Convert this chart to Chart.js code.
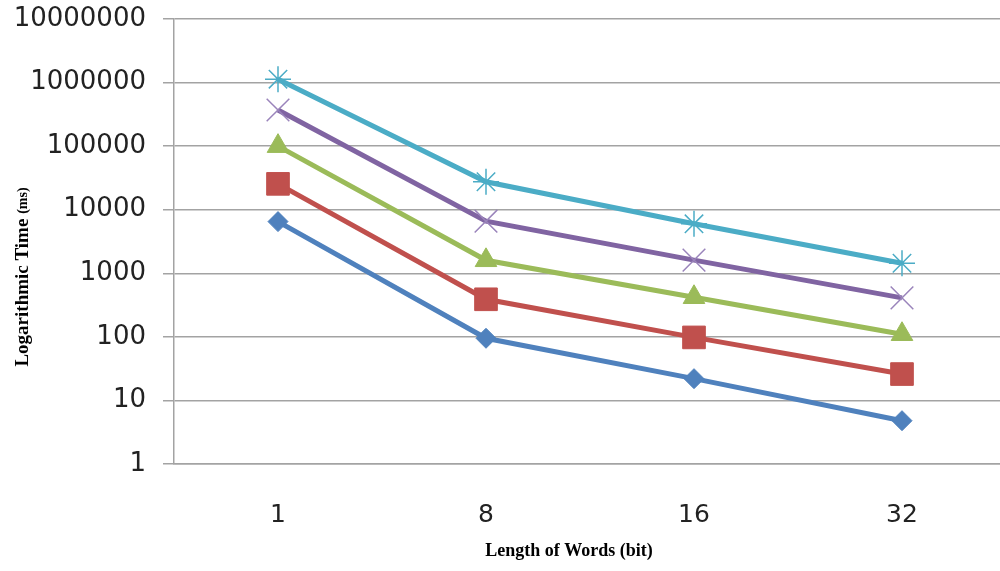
<!DOCTYPE html>
<html>
<head>
<meta charset="utf-8">
<script src="https://cdn.jsdelivr.net/npm/chart.js@4"></script>
<style>
  html, body { margin: 0; padding: 0; background: #fff; overflow: hidden; }
  #wrap { width: 1006px; height: 571px; }
</style>
</head>
<body>
<div id="wrap"><canvas id="chart"></canvas></div>
<script>
const wordLengths = ['1', '8', '16', '32'];
const yTickValues = [1, 10, 100, 1000, 10000, 100000, 1000000, 10000000];

const seriesBlue = [6500, 95, 22, 4.8];
const seriesRed = [25500, 390, 98, 26];
const seriesGreen = [100000, 1600, 420, 110];
const seriesPurple = [370000, 6600, 1610, 410];
const seriesCyan = [1130000, 27500, 6000, 1440];

const gridColor = '#a3a3a3';

// axis titles drawn by hand so "(ms)" can be smaller
const axisTitles = {
  id: 'axisTitles',
  afterDraw(chart) {
    const ctx = chart.ctx;
    ctx.save();
    ctx.fillStyle = '#000';
    ctx.textBaseline = 'middle';
    ctx.font = 'bold 18px "Liberation Serif", serif';
    ctx.textAlign = 'center';
    ctx.fillText('Length of Words (bit)', 569, 551);

    ctx.translate(23, 277);
    ctx.rotate(-Math.PI / 2);
    const big = 'bold 19px "Liberation Serif", serif';
    const small = 'bold 14px "Liberation Serif", serif';
    ctx.font = big;
    const w1 = ctx.measureText('Logarithmic Time ').width;
    ctx.font = small;
    const w2 = ctx.measureText('(ms)').width;
    const start = -(w1 + w2) / 2;
    ctx.textAlign = 'left';
    ctx.font = big;
    ctx.fillText('Logarithmic Time ', start, 0);
    ctx.font = small;
    ctx.fillText('(ms)', start + w1, 0);
    ctx.restore();
  }
};

function series(data, color, style, radius, pointBorder, pointWidth) {
  return {
    data: data,
    borderColor: color,
    backgroundColor: color,
    borderWidth: 5,
    pointStyle: style,
    pointRadius: radius,
    pointHoverRadius: radius,
    pointBackgroundColor: color,
    pointBorderColor: pointBorder,
    pointBorderWidth: pointWidth,
    tension: 0
  };
}

new Chart(document.getElementById('chart'), {
  type: 'line',
  data: {
    labels: wordLengths,
    datasets: [
      series(seriesCyan, '#4bacc6', 'star', 13, '#4bacc6', 1.5),
      series(seriesPurple, '#8064a2', 'crossRot', 16, '#9a84bb', 1.5),
      series(seriesGreen, '#9bbb59', 'triangle', 12.5, '#9bbb59', 1),
      series(seriesRed, '#c0504d', 'rect', 16, '#c0504d', 1),
      series(seriesBlue, '#4f81bd', 'rectRot', 10, '#4f81bd', 1)
    ]
  },
  options: {
    responsive: true,
    maintainAspectRatio: false,
    animation: false,
    layout: { autoPadding: false, padding: { top: 19, right: 0, bottom: 0, left: 0 } },
    plugins: {
      legend: { display: false },
      tooltip: { enabled: false }
    },
    scales: {
      x: {
        offset: true,
        grid: { display: false, drawTicks: false },
        border: { display: true, color: gridColor, width: 1.5 },
        ticks: {
          color: '#222',
          padding: 36,
          font: { family: '"DejaVu Sans", sans-serif', size: 25 }
        },
        afterFit(scale) {
          scale.height = 107;
          scale.paddingLeft = 0;
          scale.paddingRight = 0;
        }
      },
      y: {
        type: 'logarithmic',
        min: 1,
        max: 10000000,
        afterBuildTicks(scale) {
          scale.ticks = yTickValues.map(v => ({ value: v }));
        },
        afterFit(scale) {
          scale.width = 174;
          scale.paddingTop = 0;
          scale.paddingBottom = 0;
        },
        grid: { color: gridColor, lineWidth: 1.5, tickLength: 11 },
        border: { display: true, color: gridColor, width: 1.5 },
        ticks: {
          color: '#222',
          padding: 17,
          font: { family: '"DejaVu Sans", sans-serif', size: 26 },
          callback: v => String(v)
        }
      }
    }
  },
  plugins: [axisTitles]
});
</script>
</body>
</html>
